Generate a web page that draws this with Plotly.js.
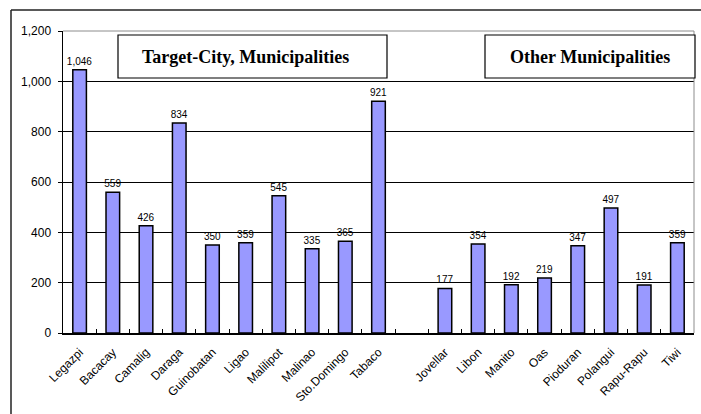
<!DOCTYPE html>
<html>
<head>
<meta charset="utf-8">
<script src="https://cdn.plot.ly/plotly-3.0.1.min.js"></script>
<style>
  html, body { margin: 0; padding: 0; background: #fff; }
  #chart { width: 701px; height: 414px; }
</style>
</head>
<body>
<div id="chart"></div>
<script>
// Target city and municipalities
const targetNames = ["Legazpi", "Bacacay", "Camalig", "Daraga", "Guinobatan", "Ligao",
                     "Malilipot", "Malinao", "Sto.Domingo", "Tabaco"];
const targetValues = [1046, 559, 426, 834, 350, 359, 545, 335, 365, 921];

// Other municipalities
const otherNames = ["Jovellar", "Libon", "Manito", "Oas", "Pioduran", "Polangui", "Rapu-Rapu", "Tiwi"];
const otherValues = [177, 354, 192, 219, 347, 497, 191, 359];

// Empty slot separating the two groups
const gapName = " ";

const groupTitles = ["Target-City, Municipalities", "Other Municipalities"];

const yTickVals = [0, 200, 400, 600, 800, 1000, 1200];

const categories = targetNames.concat([gapName], otherNames);
const values = targetValues.concat([null], otherValues);

// Pixel frame of the plot area, used to place boxes in paper units
const W = 701, H = 414;
const M = { l: 63, r: 7, t: 31, b: 81 };
const pw = W - M.l - M.r, ph = H - M.t - M.b;
const px = x => (x - M.l) / pw;
const py = y => (H - M.b - y) / ph;

const serif = "'Liberation Serif', 'Times New Roman', serif";
const sans = "'Liberation Sans', Arial, sans-serif";

const trace = {
  type: "bar",
  x: categories,
  y: values,
  width: 0.41,
  marker: { color: "#9999FF", line: { color: "#000000", width: 1.5 } },
  texttemplate: "%{y:,}",
  textposition: "outside",
  constraintext: "none",
  cliponaxis: false,
  textfont: { family: sans, size: 10, color: "#000" },
  hoverinfo: "x+y"
};

const boxStyle = { type: "rect", xref: "paper", yref: "paper", fillcolor: "#fff",
                   line: { color: "#000", width: 1.2 }, layer: "above" };

const layout = {
  width: W, height: H,
  margin: { l: M.l, r: M.r, t: M.t, b: M.b, pad: 0 },
  paper_bgcolor: "#fff",
  plot_bgcolor: "#fff",
  showlegend: false,
  font: { family: sans, color: "#000" },
  xaxis: {
    type: "category",
    categoryorder: "array",
    categoryarray: categories,
    tickangle: -45,
    tickson: "boundaries",
    ticks: "inside",
    ticklen: 4,
    tickcolor: "#000",
    ticklabelstandoff: 6,
    showline: true,
    linecolor: "#000",
    linewidth: 1.5,
    showgrid: false,
    automargin: false,
    tickfont: { size: 12, color: "#000" }
  },
  yaxis: {
    range: [0, 1200],
    tickvals: yTickVals,
    tickformat: ",",
    ticks: "outside",
    ticklen: 4,
    tickcolor: "#000",
    ticklabelstandoff: 4,
    showline: true,
    linecolor: "#000",
    linewidth: 1.5,
    showgrid: true,
    gridcolor: "#000",
    gridwidth: 1,
    zeroline: false,
    automargin: false,
    tickfont: { size: 12, color: "#000" }
  },
  shapes: [
    // plot area frame (top and right)
    { type: "line", xref: "paper", yref: "paper", x0: 0, x1: 1, y0: 1, y1: 1,
      line: { color: "#8c8c8c", width: 1 }, layer: "above" },
    { type: "line", xref: "paper", yref: "paper", x0: 1, x1: 1, y0: 0, y1: 1,
      line: { color: "#8c8c8c", width: 1 }, layer: "above" },
    // outer chart frame
    { type: "line", xref: "paper", yref: "paper", x0: px(11), x1: px(W + 5), y0: py(10), y1: py(10),
      line: { color: "#222", width: 1.5 } },
    { type: "line", xref: "paper", yref: "paper", x0: px(11), x1: px(11), y0: py(10), y1: py(H + 5),
      line: { color: "#222", width: 1.5 } },
    // group title boxes
    Object.assign({}, boxStyle, { x0: px(118), x1: px(387), y0: py(78), y1: py(35) }),
    Object.assign({}, boxStyle, { x0: px(485), x1: px(695), y0: py(78), y1: py(35) })
  ],
  annotations: [
    { xref: "paper", yref: "paper", x: px(246), y: py(56.5), xanchor: "center", yanchor: "middle",
      text: groupTitles[0], showarrow: false,
      font: { family: serif, size: 18, weight: "bold", color: "#000" } },
    { xref: "paper", yref: "paper", x: px(590), y: py(56.5), xanchor: "center", yanchor: "middle",
      text: groupTitles[1], showarrow: false,
      font: { family: serif, size: 18, weight: "bold", color: "#000" } }
  ]
};

Plotly.newPlot("chart", [trace], layout, { staticPlot: true, displayModeBar: false });
</script>
</body>
</html>
